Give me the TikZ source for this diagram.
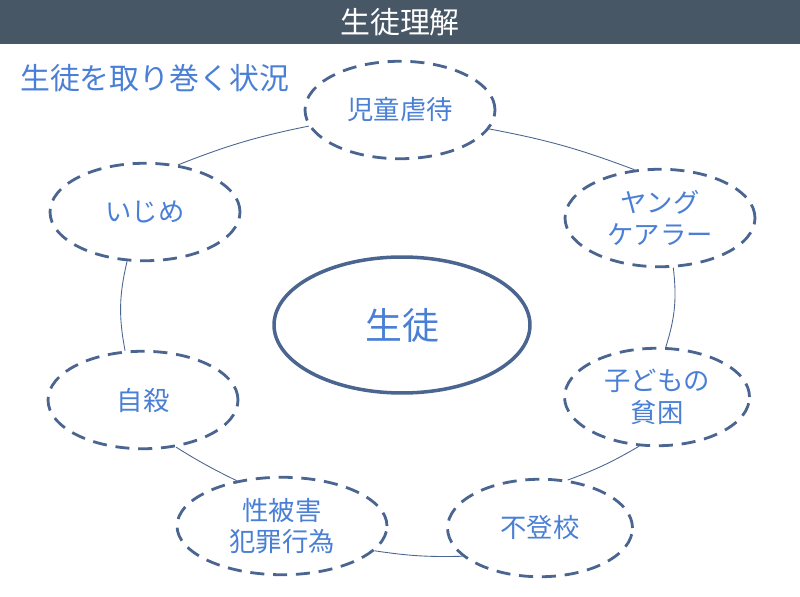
\documentclass[tikz,border=0pt]{standalone}
\usepackage{fontspec}
\setmainfont{Noto Sans CJK JP}
\usetikzlibrary{shapes.geometric}
\definecolor{barcol}{HTML}{475766}
\definecolor{rimcol}{HTML}{4A6590}
\definecolor{txtcol}{HTML}{4A7FD6}
\tikzset{
  issue/.style={ellipse, draw=rimcol, line width=1.6pt, dash pattern=on 8pt off 5pt,
    fill=white, text=txtcol, font=\fontsize{15}{18}\selectfont, align=center,
    minimum width=3.8cm, minimum height=1.95cm, inner sep=0pt},
  link/.style={draw=rimcol, line width=0.5pt}
}
\begin{document}
\begin{tikzpicture}[x=0.02cm,y=-0.02cm]
    \useasboundingbox (0,0) rectangle (800,597);
    \fill[barcol] (0,0) rectangle (800,44);
    \node[text=white, font=\fontsize{17}{20}\selectfont] (title) at (400,22) {生徒理解};
    \node[text=txtcol, font=\fontsize{17}{20}\selectfont, anchor=west] (sub) at (14,78) {生徒を取り巻く状況};
    % center
    \node[ellipse, draw=rimcol, line width=2pt, text=txtcol, font=\fontsize{21}{24}\selectfont,
      minimum width=5.12cm, minimum height=2.72cm] (pupil) at (402,325) {生徒};
    % surrounding issues
    \node[issue] (abuse) at (400,110) {児童虐待};
    \node[issue] (carer) at (660,218) {ヤング\\ケアラー};
    \node[issue, minimum width=3.7cm] (poverty) at (657,397) {子どもの\\貧困};
    \node[issue, minimum width=3.7cm] (absent) at (540,528) {不登校};
    \node[issue, minimum width=4.2cm] (crime) at (282,526) {性被害\\犯罪行為};
    \node[issue] (suicide) at (143,400) {自殺};
    \node[issue] (bully) at (145,212) {いじめ};
    % ring
    \begin{scope}[on background layer/.style={}]
    \path[link] (abuse.-12) to[bend left=5] (carer.118);
    \path[link] (carer.-75) to[bend left=12] (poverty.80);
    \path[link] (poverty.-110) to[bend left=5] (absent.60);
    \path[link] (absent.-160) to[bend left=5] (crime.-15);
    \path[link] (crime.135) to[bend left=3] (suicide.-55);
    \path[link] (suicide.110) to[bend left=12] (bully.-110);
    \path[link] (bully.55) to[bend left=5] (abuse.190);
    \end{scope}
\end{tikzpicture}
\end{document}
